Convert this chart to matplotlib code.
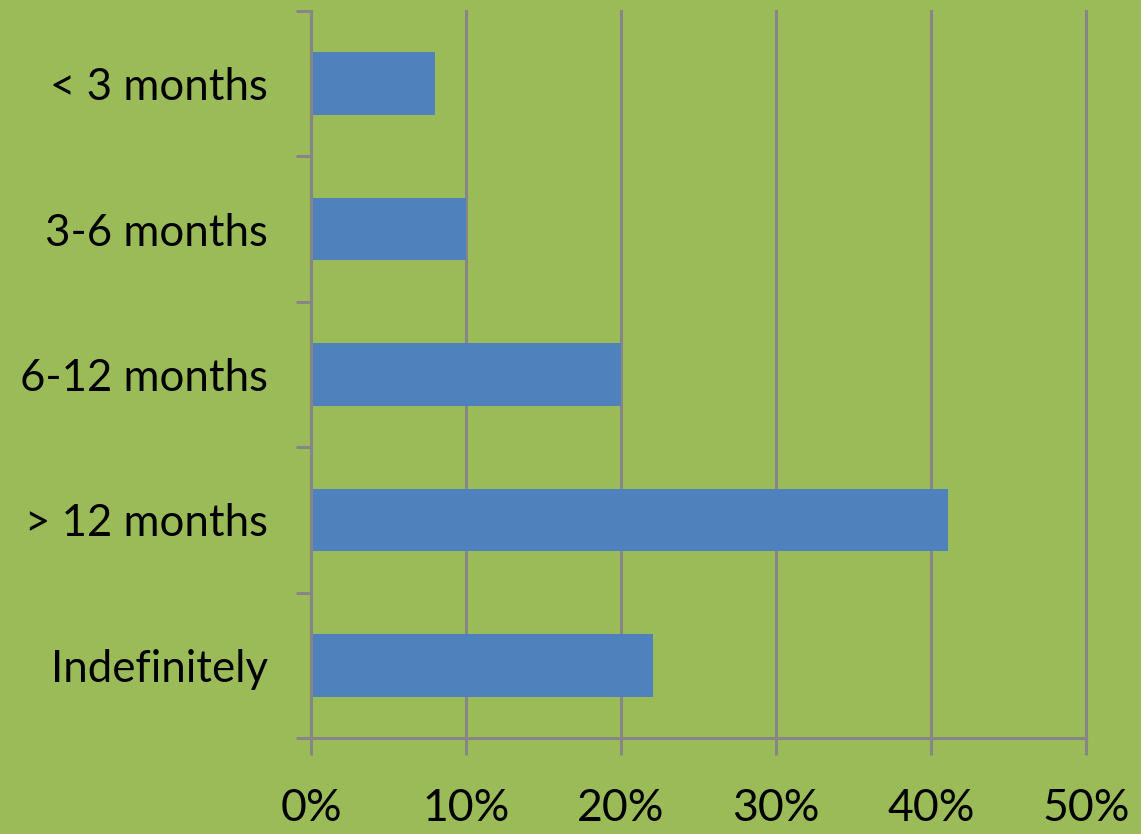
import numpy as np
import matplotlib
matplotlib.use("Agg")
import matplotlib.pyplot as plt
from matplotlib.ticker import FixedLocator, PercentFormatter

# Data
categories = ["< 3 months", "3-6 months", "6-12 months", "> 12 months", "Indefinitely"]
shares = [8.0, 10.0, 20.0, 41.1, 22.05]
xticks = [0, 10, 20, 30, 40, 50]

bg = "#9BBB59"
barColor = "#4F81BD"
gridColor = "#868686"

plt.rcParams['font.family'] = ['Lato', 'DejaVu Sans']

fig = plt.figure(figsize=(11.41, 8.34), dpi=100, facecolor=bg)
ax = fig.add_axes([311/1141, 1 - 738/834, (1086 - 311)/1141, (738 - 11)/834])
ax.set_facecolor(bg)

y = np.arange(len(categories))
ax.barh(y, shares, height=0.43, color=barColor, zorder=3)

ax.set_xlim(0, 50)
ax.set_ylim(len(categories) - 0.5, -0.5)

ax.set_xticks(xticks)
ax.xaxis.set_major_formatter(PercentFormatter(decimals=0))
ax.set_yticks(y)
ax.set_yticklabels(categories)
ax.yaxis.set_minor_locator(FixedLocator(np.arange(-0.5, len(categories), 1.0)))

ax.grid(axis='x', color=gridColor, linewidth=2.2, zorder=1)
# keep the 50% line at the right edge fully visible
for gl in ax.xaxis.get_gridlines():
    gl.set_clip_on(False)
for side in ['top', 'right']:
    ax.spines[side].set_visible(False)
for side in ['left', 'bottom']:
    ax.spines[side].set_color(gridColor)
    ax.spines[side].set_linewidth(2.2)
    ax.spines[side].set_zorder(4)

ax.tick_params(axis='x', which='major', length=12, width=2.2, color=gridColor,
               labelsize=32, pad=24, labelcolor='black')
ax.tick_params(axis='y', which='major', length=0, labelsize=31.5, pad=31, labelcolor='black')
ax.tick_params(axis='y', which='minor', length=11, width=2.2, color=gridColor)

fig.savefig("out.png", dpi=100, facecolor=bg)
